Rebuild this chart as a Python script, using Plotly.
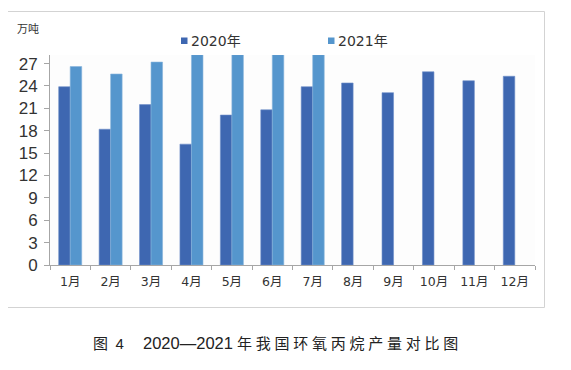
import plotly.graph_objects as go

months = ["1月", "2月", "3月", "4月", "5月", "6月", "7月", "8月", "9月", "10月", "11月", "12月"]
y2020 = [23.9, 18.2, 21.5, 16.2, 20.1, 20.8, 23.9, 24.4, 23.1, 25.9, 24.7, 25.3]
y2021 = [26.6, 25.6, 27.2, 28.2, 28.2, 28.2, 28.2, None, None, None, None, None]
y_ticks = [0, 3, 6, 9, 12, 15, 18, 21, 24, 27]
series_names = ["2020年", "2021年"]
unit_label = "万吨"
sp = "\u2005"
caption = ("图\u20024\u2003 " + '<span style="font-size:16.5px">2020—2021</span>' + " 年"
           + "".join(sp + c for c in "我国环氧丙烷产量对比图"))

c2020 = "#3e67b1"
c2021 = "#5596cd"
fontfam = "DejaVu Sans, Noto Sans CJK SC, sans-serif"

fig = go.Figure()
fig.add_trace(go.Bar(x=months, y=y2020, name=series_names[0], marker=dict(color=c2020, line=dict(color="#6f8fca", width=0.6))))
fig.add_trace(go.Bar(x=months, y=y2021, name=series_names[1], marker=dict(color=c2021, line=dict(color="#86b4dc", width=0.6))))

# page body has an 8px margin; coordinates below are screenshot pixels
OFF = 8
W, H = 555, 354
L, R, T, B = 50 - OFF, 555 - (535 - OFF), 55 - OFF, 354 - (265 - OFF)
pw, ph = W - L - R, H - T - B

def px(x):
    return (x - OFF - L) / pw

def py(y):
    return (H - B - (y - OFF)) / ph

shapes = [
    dict(type="rect", xref="paper", yref="paper", x0=px(7.5), x1=px(544.5), y0=py(307.5), y1=py(11.5),
         line=dict(color="#d3d3d3", width=1), fillcolor="rgba(0,0,0,0)", layer="below"),
]
annotations = [
    dict(text=unit_label, xref="paper", yref="paper", x=px(15), y=py(29), xanchor="left", yanchor="middle",
         showarrow=False, font=dict(size=11, color="#333333", family=fontfam)),
    dict(text=caption, xref="paper", yref="paper", x=px(91), y=py(343), xanchor="left", yanchor="middle",
         showarrow=False, font=dict(size=15, color="#222222", family="Liberation Sans, Noto Sans CJK SC, sans-serif")),
]
# manual legend
for name, col, sx in zip(series_names, [c2020, c2021], [181, 328]):
    shapes.append(dict(type="rect", xref="paper", yref="paper", x0=px(sx), x1=px(sx + 6.5), y0=py(44), y1=py(37.5),
                       line=dict(width=0), fillcolor=col))
    annotations.append(dict(text=name, xref="paper", yref="paper", x=px(sx + 8), y=py(40.5), xanchor="left",
                            yanchor="middle", showarrow=False, font=dict(size=14, color="#333333", family=fontfam)))

fig.update_layout(
    width=W, height=H,
    margin=dict(l=L, r=R, t=T, b=B, autoexpand=False),
    paper_bgcolor="white",
    plot_bgcolor="#fdfdfd",
    barmode="group",
    bargap=0.43,
    bargroupgap=0,
    font=dict(family=fontfam, color="#333333", size=12),
    showlegend=False,
    xaxis=dict(
        type="category", showline=True, linecolor="#a6a6a6", linewidth=1,
        ticks="outside", tickson="boundaries", ticklen=4, tickcolor="#a6a6a6",
        tickfont=dict(size=12.5, color="#333333"), showgrid=False, zeroline=False,
        ticklabelstandoff=5,
    ),
    yaxis=dict(
        range=[0, 28.15], tickvals=y_ticks, showline=True, linecolor="#a6a6a6", linewidth=1,
        ticks="outside", ticklen=5, tickcolor="#a6a6a6", showgrid=False, zeroline=False,
        tickfont=dict(size=17, color="#333333", family="Liberation Sans Narrow, Liberation Sans, sans-serif"),
        ticklabelstandoff=3,
    ),
    shapes=shapes,
    annotations=annotations,
)

fig.write_html("out.html")
